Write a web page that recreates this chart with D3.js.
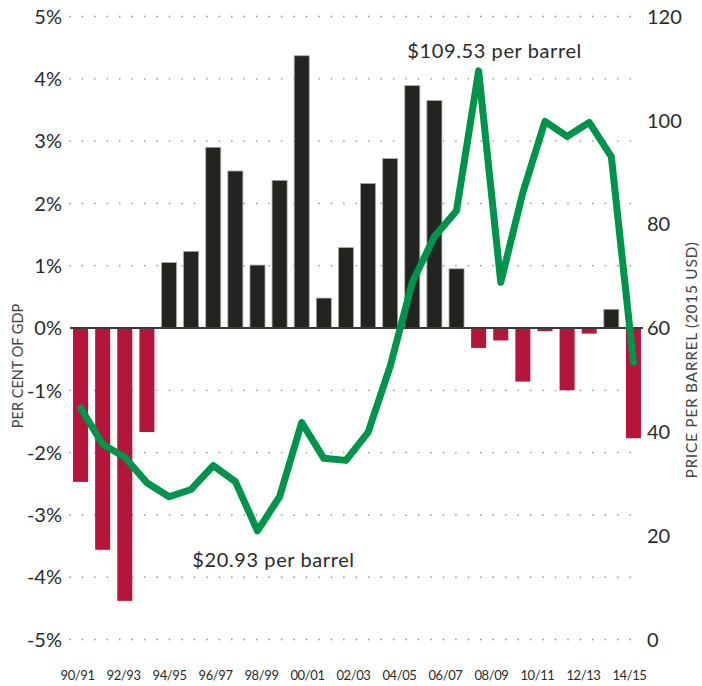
<!DOCTYPE html>
<html>
<head>
<meta charset="utf-8">
<script src="https://cdnjs.cloudflare.com/ajax/libs/d3/7.8.5/d3.min.js"></script>
<style>
    body { margin: 0; background: #fff; }
    text { font-family: Lato, "Open Sans", sans-serif; fill: #2a2a2a; }
</style>
</head>
<body>
<svg id="chart" width="702" height="686"></svg>
<script>
// one entry per fiscal year, 26 years
var years = ["89/90", "90/91", "91/92", "92/93", "93/94", "94/95", "95/96", "96/97", "97/98",
    "98/99", "99/00", "00/01", "01/02", "02/03", "03/04", "04/05", "05/06", "06/07", "07/08",
    "08/09", "09/10", "10/11", "11/12", "12/13", "13/14", "14/15"];

// balance, per cent of GDP
var balance = [-2.47, -3.56, -4.38, -1.67, 1.05, 1.23, 2.90, 2.52, 1.01, 2.37, 4.37, 0.48, 1.29,
    2.32, 2.72, 3.89, 3.65, 0.95, -0.32, -0.20, -0.86, -0.05, -1.00, -0.09, 0.30, -1.77];

// oil price per barrel, 2015 USD
var oilPrice = [44.6, 37.6, 35.1, 30.2, 27.5, 28.9, 33.5, 30.4, 20.93, 27.5, 41.8, 34.9, 34.5,
    39.9, 52.6, 68.8, 77.6, 82.6, 109.53, 68.8, 86.1, 99.8, 96.9, 99.6, 93.0, 53.4];

var tickLabels = ["90/91", "92/93", "94/95", "96/97", "98/99", "00/01", "02/03", "04/05",
    "06/07", "08/09", "10/11", "12/13", "14/15"];

var pctTicks = [-5, -4, -3, -2, -1, 0, 1, 2, 3, 4, 5];
var priceTicks = [0, 20, 40, 60, 80, 100, 120];

var svg = d3.select("#chart");

var x = d3.scaleBand().domain(years).range([66.4, 647.6])
        .paddingInner(0.32).paddingOuter(0.3);
var yPct = d3.scaleLinear().domain([-5, 5]).range([639.5, 16.5]);
var yPrice = d3.scaleLinear().domain([0, 120]).range([639.5, 16.5]);

function cx(d) {
    return x(d) + x.bandwidth() / 2;
}

// dotted gridlines
svg.append("g").selectAll("line")
        .data(pctTicks.filter(function (t) { return t !== 0; }))
        .enter().append("line")
        .attr("x1", 70).attr("x2", 637)
        .attr("y1", function (d) { return yPct(d); })
        .attr("y2", function (d) { return yPct(d); })
        .attr("stroke", "#a0a0a0")
        .attr("stroke-width", 1.8)
        .attr("stroke-linecap", "round")
        .attr("stroke-dasharray", "0,12.45");

// left axis labels
svg.append("g").selectAll("text")
        .data(pctTicks).enter().append("text")
        .attr("x", 62)
        .attr("y", function (d) { return yPct(d); })
        .attr("dy", "0.36em")
        .attr("text-anchor", "end")
        .style("font-size", "20px")
        .text(function (d) { return d + "%"; });

// right axis labels
svg.append("g").selectAll("text")
        .data(priceTicks).enter().append("text")
        .attr("x", 647)
        .attr("y", function (d) { return yPrice(d); })
        .attr("dy", "0.36em")
        .style("font-size", "20px")
        .text(function (d) { return d; });

// bars
svg.append("g").selectAll("rect")
        .data(years).enter().append("rect")
        .attr("x", function (d) { return x(d); })
        .attr("width", x.bandwidth())
        .attr("y", function (d, i) { return yPct(Math.max(0, balance[i])); })
        .attr("height", function (d, i) { return Math.abs(yPct(balance[i]) - yPct(0)); })
        .attr("fill", function (d, i) { return balance[i] >= 0 ? "#222420" : "#b3163a"; })
        .attr("stroke", function (d, i) { return balance[i] >= 0 ? "#a8a8a8" : "none"; })
        .attr("stroke-width", 0.8);

// zero line
svg.append("line")
        .attr("x1", 70).attr("x2", 643)
        .attr("y1", yPct(0)).attr("y2", yPct(0))
        .attr("stroke", "#3a3a3a")
        .attr("stroke-width", 2);

// oil price line
var line = d3.line()
        .x(function (d, i) { return cx(years[i]); })
        .y(function (d) { return yPrice(d); });

svg.append("path")
        .datum(oilPrice)
        .attr("d", line)
        .attr("fill", "none")
        .attr("stroke", "#00934b")
        .attr("stroke-width", 7)
        .attr("stroke-linejoin", "round")
        .attr("stroke-linecap", "round");

// annotations on max and min price
var fmt = d3.format(".2f");
var iMax = d3.maxIndex(oilPrice);
var iMin = d3.minIndex(oilPrice);

svg.append("text")
        .attr("x", cx(years[iMax]) + 16)
        .attr("y", yPrice(oilPrice[iMax]) - 13)
        .attr("text-anchor", "middle")
        .style("font-size", "20px")
        .style("letter-spacing", "0.6px")
        .text("$" + fmt(oilPrice[iMax]) + " per barrel");

svg.append("text")
        .attr("x", cx(years[iMin]) + 16)
        .attr("y", yPrice(oilPrice[iMin]) + 36)
        .attr("text-anchor", "middle")
        .style("font-size", "20px")
        .style("letter-spacing", "0.6px")
        .text("$" + fmt(oilPrice[iMin]) + " per barrel");

// x labels, spread from first to last bar
var xl = d3.scalePoint().domain(tickLabels)
        .range([cx(years[0]) - 3, cx(years[years.length - 1]) - 4]);

svg.append("g").selectAll("text")
        .data(tickLabels).enter().append("text")
        .attr("x", function (d) { return xl(d); })
        .attr("y", 680)
        .attr("text-anchor", "middle")
        .style("font-size", "13px")
        .style("letter-spacing", "-0.4px")
        .text(function (d) { return d; });

// axis titles
svg.append("text")
        .attr("transform", "translate(23,366) rotate(-90)")
        .attr("text-anchor", "middle")
        .style("font-size", "14.5px")
        .style("fill", "#444")
        .text("PER CENT OF GDP");

svg.append("text")
        .attr("transform", "translate(697,360) rotate(-90)")
        .attr("text-anchor", "middle")
        .style("font-size", "15.5px")
        .style("letter-spacing", "0.7px")
        .style("fill", "#444")
        .text("PRICE PER BARREL (2015 USD)");
</script>
</body>
</html>
